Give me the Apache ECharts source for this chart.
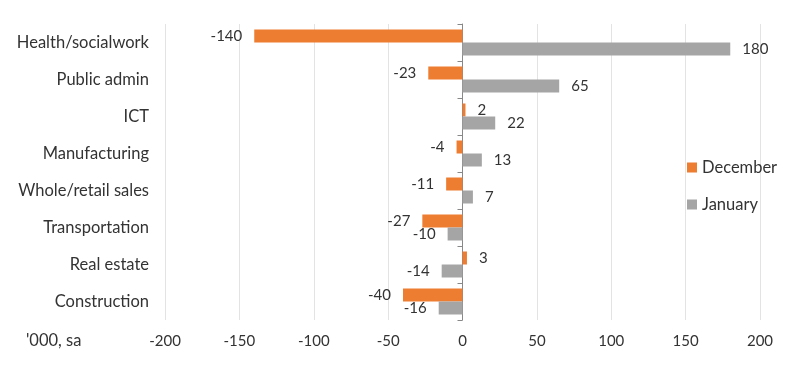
<!DOCTYPE html>
<html><head><meta charset="utf-8">
<script src="https://cdn.jsdelivr.net/npm/echarts@6/dist/echarts.min.js"></script>
<style>html,body{margin:0;padding:0;background:#fff}#c{width:800px;height:368px}</style>
</head><body><div id="c"></div>
<script>
const categories = ["Health/socialwork","Public admin","ICT","Manufacturing","Whole/retail sales","Transportation","Real estate","Construction"];
const december = [-140,-23,2,-4,-11,-27,3,-40];
const january = [180,65,22,13,7,-10,-14,-16];
const xTicks = [-200,-150,-100,-50,0,50,100,150,200];
const unitLabel = "'000, sa";

const FONT = "Lato";
const TXT = "#333333";
function items(arr){
  return arr.map(v => ({value: v, label: {position: v < 0 ? 'left' : 'right'}}));
}
const chart = echarts.init(document.getElementById('c'));
chart.setOption({
  animation: false,
  textStyle: {fontFamily: FONT},
  grid: {left: 165, right: 40, top: 24, bottom: 48, containLabel: false},
  legend: {
    orient: 'vertical', left: 682, top: 154, itemWidth: 10, itemHeight: 10, itemGap: 20,
    icon: 'rect', textStyle: {fontSize: 16.5, color: TXT, fontFamily: FONT},
    data: ['December','January']
  },
  xAxis: {
    type: 'value', min: xTicks[0], max: xTicks[xTicks.length-1], interval: 50,
    axisLine: {show: false}, axisTick: {show: false},
    splitLine: {show: true, lineStyle: {color: '#e3e3e3', width: 1}},
    axisLabel: {fontSize: 15, color: TXT, margin: 14, fontFamily: FONT}
  },
  yAxis: [{
    type: 'category', data: categories, inverse: true,
    axisLine: {show: false, onZero: false}, axisTick: {show: false},
    axisLabel: {fontSize: 16.5, color: TXT, margin: 16, fontFamily: FONT}
  },{
    type: 'category', data: categories, inverse: true, position: 'left',
    axisLine: {show: true, onZero: true, lineStyle: {color: '#888888'}},
    axisTick: {show: true, length: 5, lineStyle: {color: '#888888'}},
    axisLabel: {show: false}
  }],
  graphic: [{
    type: 'text', left: 26, top: 332,
    style: {text: unitLabel, fontSize: 16.5, fill: TXT, fontFamily: FONT}
  }],
  series: [{
    name: 'December', type: 'bar', data: items(december),
    barWidth: 13, barGap: '0%',
    itemStyle: {color: '#ED7D31'},
    label: {show: true, distance: 12, fontSize: 15, color: TXT, fontFamily: FONT}
  },{
    name: 'January', type: 'bar', data: items(january),
    barWidth: 13, barGap: '0%',
    itemStyle: {color: '#A5A5A5'},
    label: {show: true, distance: 12, fontSize: 15, color: TXT, fontFamily: FONT}
  }]
});
</script></body></html>
